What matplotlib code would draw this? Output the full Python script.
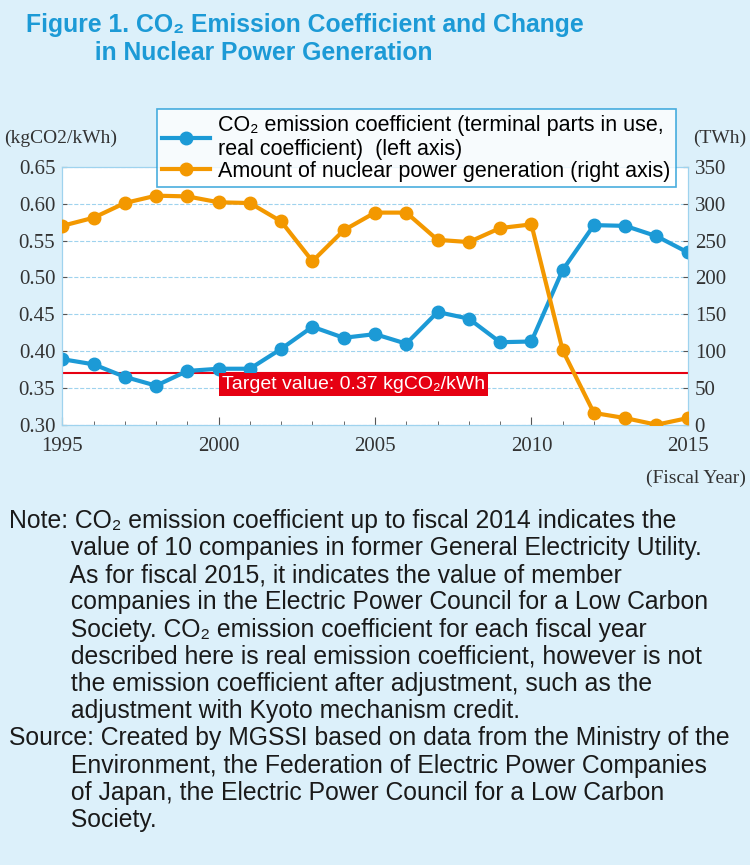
import matplotlib
matplotlib.use("Agg")
import matplotlib.pyplot as plt
from matplotlib.ticker import MultipleLocator

years = list(range(1995, 2016))
co2_coef = [0.389, 0.382, 0.365, 0.353, 0.373, 0.376, 0.376, 0.403, 0.433, 0.418, 0.423,
            0.410, 0.453, 0.444, 0.412, 0.413, 0.510, 0.571, 0.570, 0.556, 0.534]
nuclear_twh = [270, 281, 301, 311, 310, 302, 301, 276, 222, 264, 288,
               288, 251, 248, 267, 272, 101, 16, 9, 0, 9]
target = 0.37

BLUE = "#1c9ad6"
ORANGE = "#f39800"
BG = "#dcf0fa"
SANS = "Liberation Sans"
SERIF = "Liberation Serif"

fig = plt.figure(figsize=(7.5, 8.65), dpi=100, facecolor=BG)
ax = fig.add_axes([0.083, 0.509, 0.834, 0.298])
ax.set_facecolor("white")
ax2 = ax.twinx()

ax.plot(years, co2_coef, color=BLUE, lw=3, marker="o", ms=9, zorder=3,
        label="CO\u2082 emission coefficient (terminal parts in use,\nreal coefficient)  (left axis)")
ax2.plot(years, nuclear_twh, color=ORANGE, lw=3, marker="o", ms=9, zorder=3,
         label="Amount of nuclear power generation (right axis)")
ax.axhline(target, color="#e60012", lw=1.5, zorder=2)
ax.text(2004.3, target - 0.004, "Target value: 0.37 kgCO\u2082/kWh", color="white",
        fontsize=14, family=SANS, ha="center", va="top",
        bbox=dict(boxstyle="square,pad=0.15", fc="#e60012", ec="none"), zorder=5)

ax.set_xlim(1995, 2015)
ax.set_ylim(0.30, 0.65)
ax2.set_ylim(0, 350)
ax.xaxis.set_major_locator(MultipleLocator(5))
ax.xaxis.set_minor_locator(MultipleLocator(1))
ax.yaxis.set_major_locator(MultipleLocator(0.05))
ax2.yaxis.set_major_locator(MultipleLocator(50))
ax.set_yticklabels([f"{v:.2f}" for v in ax.get_yticks()])
ax.grid(axis="y", color="#9fd3ee", ls="--", lw=0.8)
ax.set_axisbelow(True)
for a in (ax, ax2):
    for s in a.spines.values():
        s.set_color("#9fd3ee")
    a.tick_params(which="both", direction="in", color="#555555", labelsize=15, pad=5)
    for lbl in a.get_xticklabels() + a.get_yticklabels():
        lbl.set_family(SERIF)
        lbl.set_color("#333333")
ax.tick_params(axis="x", which="major", length=6, pad=9)
ax.tick_params(axis="x", which="minor", length=3)
ax2.set_zorder(ax.get_zorder() + 1)
ax.set_zorder(1)
ax2.patch.set_visible(False)

fig.text(0.005, 0.835, "(kgCO2/kWh)", family=SERIF, fontsize=14, color="#333333")
fig.text(0.995, 0.835, "(TWh)", family=SERIF, fontsize=14, color="#333333", ha="right")
fig.text(0.995, 0.442, "(Fiscal Year)", family=SERIF, fontsize=14, color="#333333", ha="right")

h1, l1 = ax.get_legend_handles_labels()
h2, l2 = ax2.get_legend_handles_labels()
leg = fig.legend(h1 + h2, l1 + l2, loc="upper left", bbox_to_anchor=(0.195, 0.886),
                 prop={"family": SANS, "size": 15.5}, frameon=True, fancybox=False,
                 handlelength=2.2, handletextpad=0.4, labelspacing=0.05, borderpad=0.25)
leg.get_frame().set_edgecolor(BLUE)
leg.get_frame().set_linewidth(1.2)
leg.set_zorder(10)

fig.text(0.035, 0.985, "Figure 1. CO\u2082 Emission Coefficient and Change\n          in Nuclear Power Generation",
         family=SANS, fontsize=17.8, weight="bold", color=BLUE, va="top", linespacing=1.2)

note = ("Note: CO\u2082 emission coefficient up to fiscal 2014 indicates the\n"
        "         value of 10 companies in former General Electricity Utility.\n"
        "         As for fiscal 2015, it indicates the value of member\n"
        "         companies in the Electric Power Council for a Low Carbon\n"
        "         Society. CO\u2082 emission coefficient for each fiscal year\n"
        "         described here is real emission coefficient, however is not\n"
        "         the emission coefficient after adjustment, such as the\n"
        "         adjustment with Kyoto mechanism credit.\n"
        "Source: Created by MGSSI based on data from the Ministry of the\n"
        "         Environment, the Federation of Electric Power Companies\n"
        "         of Japan, the Electric Power Council for a Low Carbon\n"
        "         Society.")
fig.text(0.012, 0.412, note, family=SANS, fontsize=17.8, color="#1a1a1a", va="top",
         linespacing=1.17)

fig.savefig("out.png", dpi=100, facecolor=BG)
